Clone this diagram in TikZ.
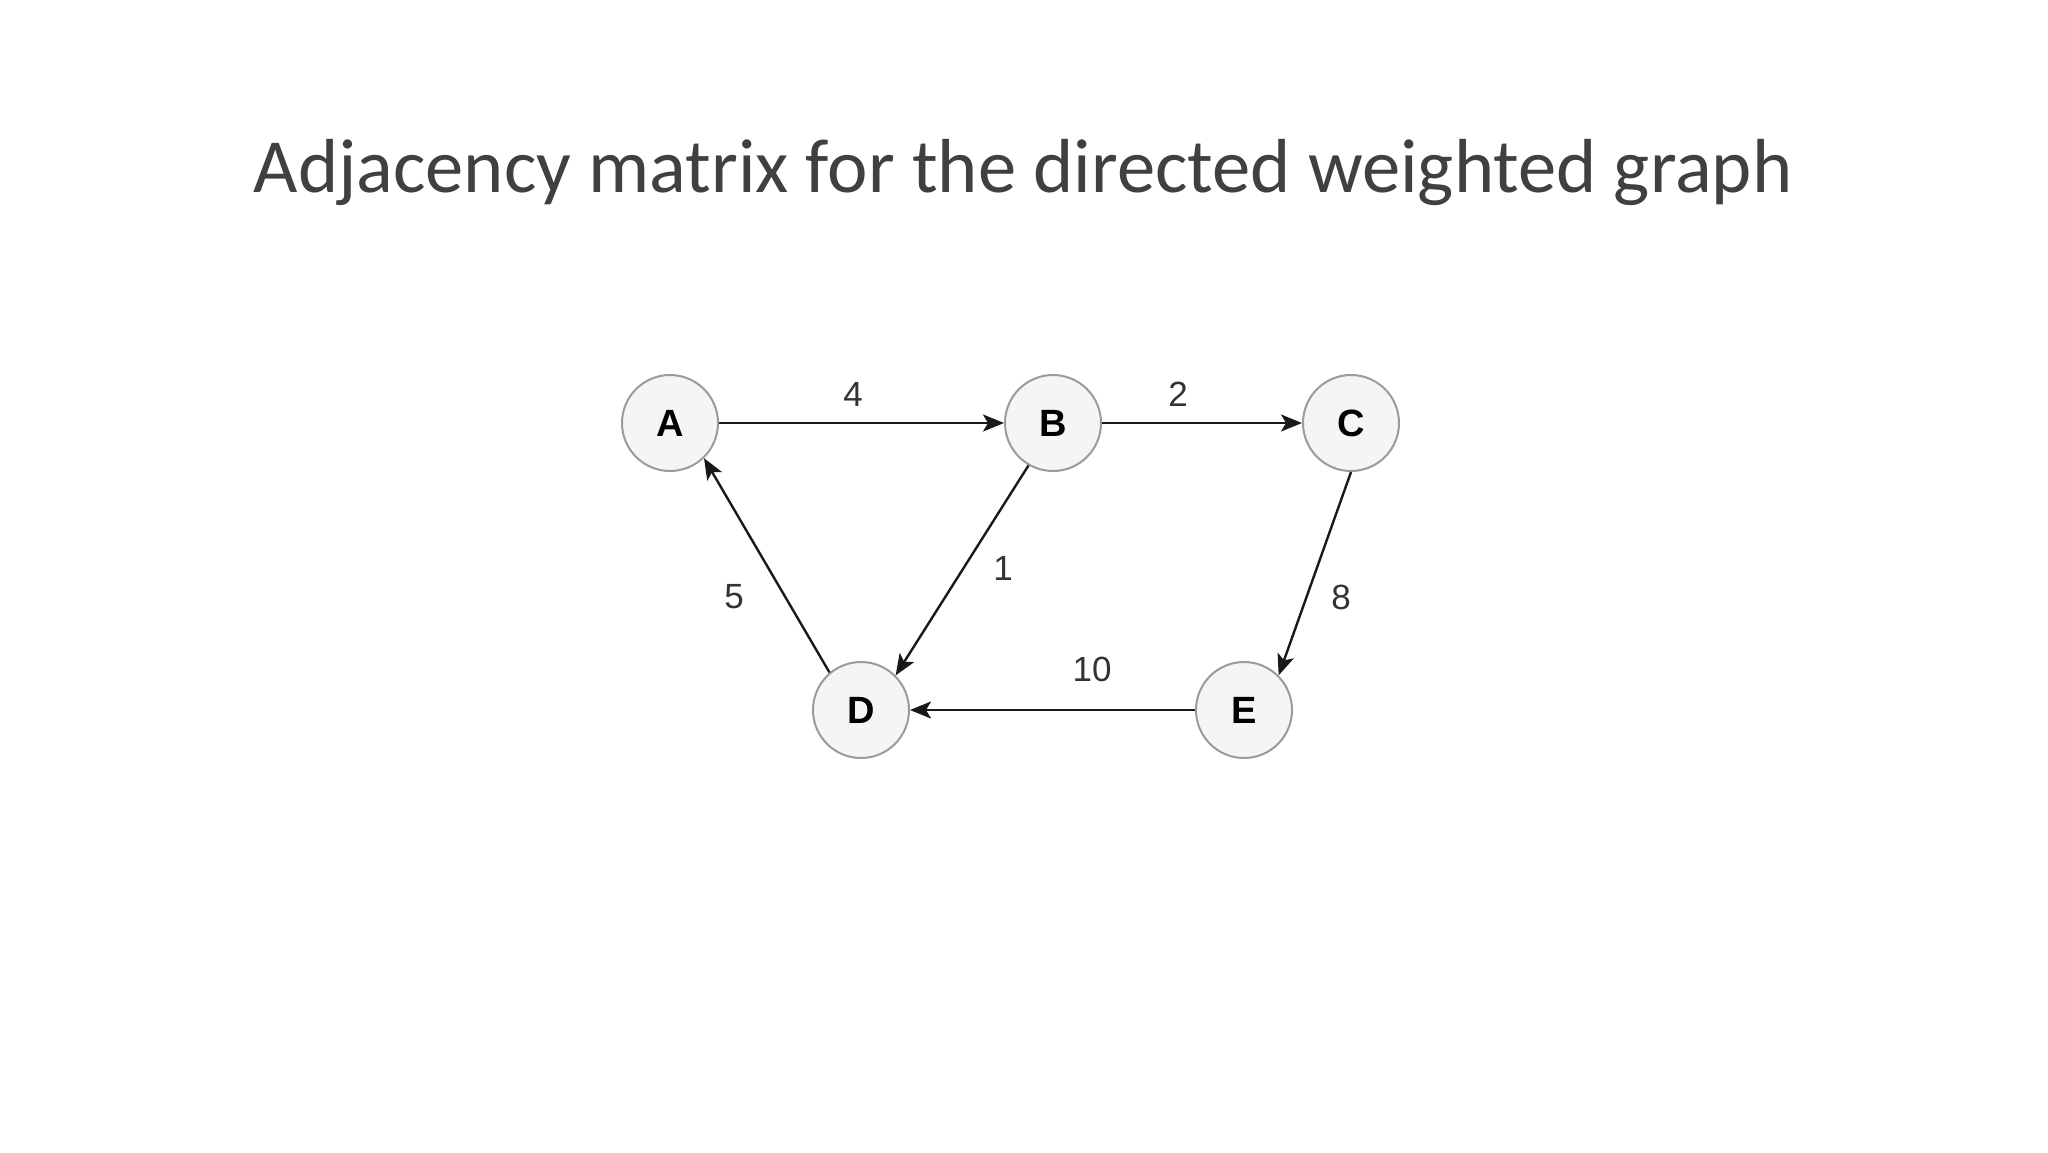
\documentclass[tikz,border=0pt]{standalone}
\usepackage{fontspec}
\setmainfont{Carlito}
\newfontfamily\arialf{Liberation Sans}
\usetikzlibrary{arrows.meta}
\definecolor{titlegray}{RGB}{64,64,64}
\definecolor{nodefill}{RGB}{245,245,245}
\definecolor{nodeline}{RGB}{155,155,155}
\definecolor{labgray}{RGB}{51,51,51}
\tikzset{
  vert/.style={circle, draw=nodeline, line width=2pt, fill=nodefill, minimum size=96pt, inner sep=0pt, font=\arialf\bfseries\fontsize{38}{42}\selectfont, text=black},
  edge/.style={draw=black!90, line width=2.4pt, -{Stealth[length=21pt,width=17pt,inset=5pt]}},
  wlab/.style={font=\arialf\fontsize{35}{38}\selectfont, text=labgray, inner sep=0pt},
}
\begin{document}
\begin{tikzpicture}[x=1pt,y=-1pt]
\useasboundingbox (0,0) rectangle (2048,1152);
\fill[white] (0,0) rectangle (2048,1152);
\node[font=\fontsize{76.6}{82}\selectfont, text=titlegray, inner sep=0pt] (title) at (1023,172) {Adjacency matrix for the directed weighted graph};
\node[vert] (A) at (670,423) {A};
\node[vert] (B) at (1053,423) {B};
\node[vert] (C) at (1351,423) {C};
\node[vert] (D) at (861,710) {D};
\node[vert] (E) at (1244,710) {E};
\draw[edge] (A) -- (B);
\draw[edge] (B) -- (C);
\draw[edge] (B.240) -- (D.45);
\draw[edge] (D.130) -- (A.314);
\draw[edge] (C.south) -- (E.45);
\draw[edge] (E) -- (D);
\node[wlab] (w4) at (853,394) {4};
\node[wlab] (w2) at (1178,394) {2};
\node[wlab] (w1) at (1003,568) {1};
\node[wlab] (w5) at (734,597) {5};
\node[wlab] (w8) at (1341,597) {8};
\node[wlab] (w10) at (1092,669) {10};
\end{tikzpicture}
\end{document}
